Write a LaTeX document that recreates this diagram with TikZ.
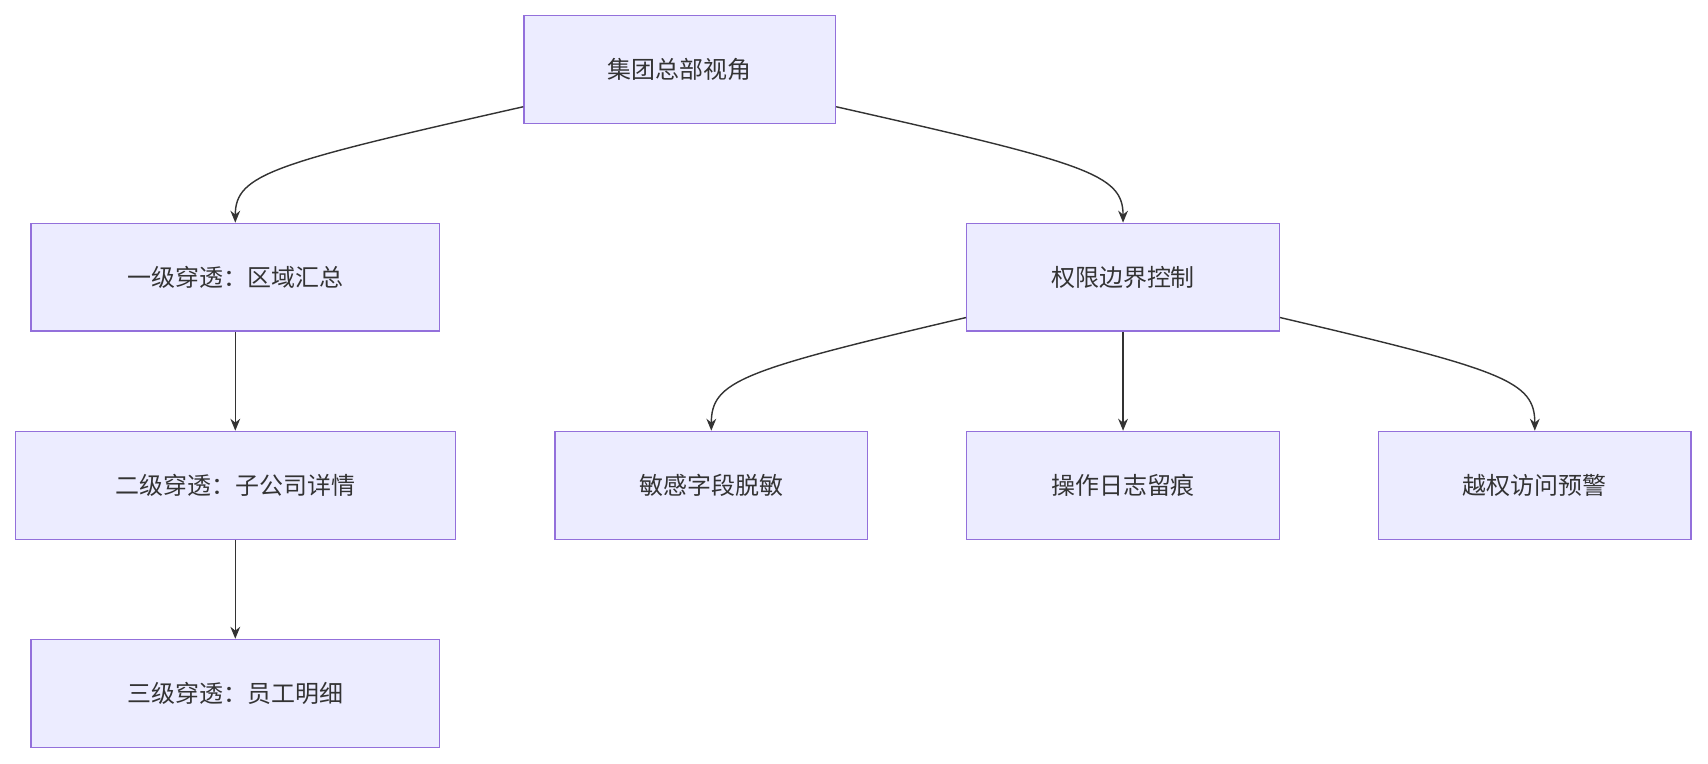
\documentclass[tikz,border=0pt]{standalone}
\usepackage{fontspec}
\setmainfont{Noto Sans CJK SC}
\usetikzlibrary{calc,arrows.meta}
\definecolor{nfill}{HTML}{ECECFF}
\definecolor{nline}{HTML}{9370DB}
\definecolor{eline}{HTML}{333333}
\begin{document}
\begin{tikzpicture}[x=1pt,y=-1pt,
  box/.style={draw=nline,fill=nfill,line width=1.2pt,minimum height=99pt,text=eline,font=\fontsize{22}{26}\selectfont,inner sep=0pt},
  edge/.style={draw=eline,line width=1.3pt,-{Stealth[length=11pt,width=9pt]}}]
\useasboundingbox (0,0) rectangle (1568,701);
\node[box,minimum width=286pt] (top) at (624,64) {集团总部视角};
\node[box,minimum width=375pt] (l1) at (216,254.5) {一级穿透：区域汇总};
\node[box,minimum width=287pt] (r1) at (1031,254.5) {权限边界控制};
\node[box,minimum width=404pt] (l2) at (216,445.5) {二级穿透：子公司详情};
\node[box,minimum width=375pt] (l3) at (216,636.5) {三级穿透：员工明细};
\node[box,minimum width=287pt] (s1) at (653,445.5) {敏感字段脱敏};
\node[box,minimum width=287pt] (s2) at (1031,445.5) {操作日志留痕};
\node[box,minimum width=287pt] (s3) at (1409,445.5) {越权访问预警};
\coordinate (tl) at ($(top.west)+(0,34)$);
\coordinate (tr) at ($(top.east)+(0,34)$);
\coordinate (rl) at ($(r1.west)+(0,37)$);
\coordinate (rr) at ($(r1.east)+(0,37)$);
\draw[edge] (tl) .. controls (250,150) and (216,160) .. (l1.north);
\draw[edge] (tr) .. controls (998,150) and (1031,160) .. (r1.north);
\draw[edge] (l1) -- (l2);
\draw[edge] (l2) -- (l3);
\draw[edge] (rl) .. controls (680,340) and (653,350) .. (s1.north);
\draw[edge] (r1) -- (s2);
\draw[edge] (rr) .. controls (1382,340) and (1409,350) .. (s3.north);
\end{tikzpicture}
\end{document}
